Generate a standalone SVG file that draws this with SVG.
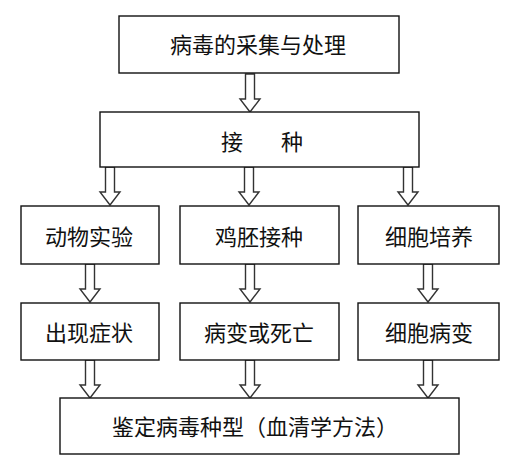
<svg xmlns="http://www.w3.org/2000/svg" width="519" height="473" viewBox="0 0 519 473">
<style>
.box{fill:#fff;stroke:#111;stroke-width:1.4}
.t{font-family:"Noto Sans CJK SC","Noto Sans",sans-serif;font-size:22px;fill:#111;text-anchor:middle;dominant-baseline:central}
.arr{fill:#fff;stroke:#333;stroke-width:1.4;stroke-linejoin:miter}
</style>
<defs>
<path id="a" class="arr" d="M-4.5,0 V25 H-10 L0,38 L10,25 H4.5 V0 Z"/>
</defs>
<rect width="519" height="473" fill="#fff"/>
<g id="connectors">
<use href="#a" x="250" y="74"/>
<use href="#a" x="110" y="167"/>
<use href="#a" x="249" y="167"/>
<use href="#a" x="408" y="167"/>
<use href="#a" x="90" y="264"/>
<use href="#a" x="250" y="264"/>
<use href="#a" x="428" y="264"/>
<use href="#a" x="90" y="360"/>
<use href="#a" x="250" y="360"/>
<use href="#a" x="428" y="360"/>
</g>
<g id="n1"><rect class="box" x="119" y="16" width="280" height="57"/><text class="t" x="258" y="43">病毒的采集与处理</text></g>
<g id="n2"><rect class="box" x="100" y="112" width="319" height="55"/><text class="t" x="232" y="140">接</text><text class="t" x="292" y="140">种</text></g>
<g id="n3"><rect class="box" x="21" y="206" width="138" height="58"/><text class="t" x="89" y="235">动物实验</text></g>
<g id="n4"><rect class="box" x="180" y="206" width="159" height="58"/><text class="t" x="259" y="235">鸡胚接种</text></g>
<g id="n5"><rect class="box" x="358" y="206" width="141" height="58"/><text class="t" x="429" y="235">细胞培养</text></g>
<g id="n6"><rect class="box" x="21" y="303" width="138" height="57"/><text class="t" x="89" y="331">出现症状</text></g>
<g id="n7"><rect class="box" x="180" y="303" width="159" height="57"/><text class="t" x="259" y="331">病变或死亡</text></g>
<g id="n8"><rect class="box" x="358" y="303" width="141" height="57"/><text class="t" x="429" y="331">细胞病变</text></g>
<g id="n9"><rect class="box" x="60" y="398" width="399" height="56"/><text class="t" x="255" y="425">鉴定病毒种型（血清学方法）</text></g>
</svg>
